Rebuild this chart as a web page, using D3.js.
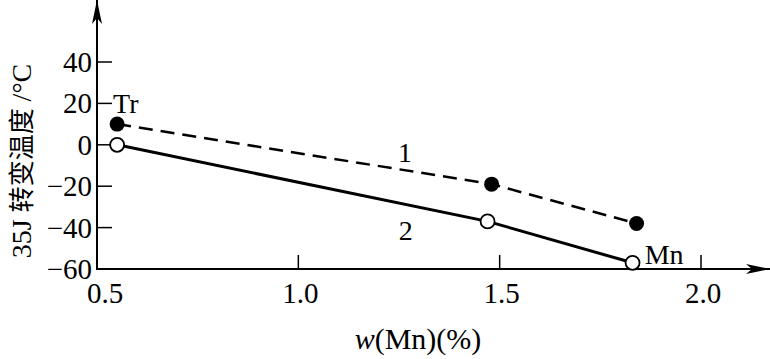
<!DOCTYPE html>
<html>
<head>
<meta charset="utf-8">
<script src="https://cdn.jsdelivr.net/npm/d3@7"></script>
<style>
  body { margin: 0; background: #fff; }
  text { font-family: "Liberation Serif", "Times New Roman", "DejaVu Serif", serif; fill: #000; }
  .cjk { font-family: "Noto Sans CJK SC", sans-serif; }
</style>
</head>
<body>
<svg id="chart" width="770" height="359"></svg>
<script>
// data
var xTicks = [1.0, 1.5, 2.0];
var xTickLabels = ["0.5", "1.0", "1.5", "2.0"];
var yTicks = [40, 20, 0, -20, -40, -60];

// curve 1 (filled dots, dashed)
var mn1 = [0.55, 1.48, 1.84];
var temp1 = [10, -19, -38];
// curve 2 (open dots, solid)
var mn2 = [0.55, 1.47, 1.83];
var temp2 = [0, -37, -57];

var svg = d3.select("#chart");

var x = d3.scaleLinear().domain([0.5, 2.0]).range([97, 701]);
var y = d3.scaleLinear().domain([-60, 40]).range([269, 62]);

var black = "#000";

// axes with arrows
svg.append("defs").append("marker")
    .attr("id", "arrow")
    .attr("viewBox", "0 0 24 10")
    .attr("refX", 24).attr("refY", 5)
    .attr("markerWidth", 24).attr("markerHeight", 10)
    .attr("markerUnits", "userSpaceOnUse")
    .attr("orient", "auto")
  .append("path")
    .attr("d", "M0,0 L24,5 L0,10 L6,5 Z")
    .attr("fill", black);

svg.append("line")
    .attr("x1", x(0.5)).attr("y1", y(-60))
    .attr("x2", 770).attr("y2", y(-60))
    .attr("stroke", black).attr("stroke-width", 2)
    .attr("marker-end", "url(#arrow)");

svg.append("line")
    .attr("x1", x(0.5)).attr("y1", y(-60) + 1)
    .attr("x2", x(0.5)).attr("y2", 0)
    .attr("stroke", black).attr("stroke-width", 2)
    .attr("marker-end", "url(#arrow)");

// x ticks (pointing up)
svg.selectAll(".xt")
    .data(xTicks)
    .enter().append("line")
    .attr("x1", function(d) { return x(d); })
    .attr("x2", function(d) { return x(d); })
    .attr("y1", y(-60))
    .attr("y2", y(-60) - 14)
    .attr("stroke", black).attr("stroke-width", 1.5);

svg.selectAll(".xl")
    .data(xTickLabels)
    .enter().append("text")
    .attr("x", function(d, i) { return x(+d) + (i == 0 ? 8 : 2); })
    .attr("y", 303)
    .attr("text-anchor", "middle")
    .style("font-size", "29px")
    .text(function(d) { return d; });

// y ticks (pointing right)
svg.selectAll(".yt")
    .data(yTicks)
    .enter().append("line")
    .attr("x1", x(0.5))
    .attr("x2", x(0.5) + 15)
    .attr("y1", function(d) { return y(d); })
    .attr("y2", function(d) { return y(d); })
    .attr("stroke", black).attr("stroke-width", 1.5);

svg.selectAll(".yl")
    .data(yTicks)
    .enter().append("text")
    .attr("x", 92)
    .attr("y", function(d) { return y(d) + 10; })
    .attr("text-anchor", "end")
    .style("font-size", "29px")
    .text(function(d) { return d < 0 ? "\u2212" + Math.abs(d) : d; });

// axis titles
var xt = svg.append("text")
    .attr("x", 418).attr("y", 349)
    .attr("text-anchor", "middle")
    .style("font-size", "30px");
xt.append("tspan").style("font-style", "italic").text("w");
xt.append("tspan").text("(Mn)(%)");

var yt = svg.append("text")
    .attr("transform", "translate(31,161) rotate(-90)")
    .attr("text-anchor", "middle")
    .style("font-size", "28px");
yt.append("tspan").text("35J ");
yt.append("tspan").attr("class", "cjk").style("font-size", "26px").text("转变温度");
yt.append("tspan").text(" /°C");

// curves
var line = d3.line()
    .x(function(d) { return x(d[0]); })
    .y(function(d) { return y(d[1]); });

var pts1 = d3.zip(mn1, temp1);
var pts2 = d3.zip(mn2, temp2);

svg.append("path")
    .datum(pts1)
    .attr("d", line)
    .attr("fill", "none")
    .attr("stroke", black)
    .attr("stroke-width", 2.5)
    .attr("stroke-dasharray", "14,8");

svg.append("path")
    .datum(pts2)
    .attr("d", line)
    .attr("fill", "none")
    .attr("stroke", black)
    .attr("stroke-width", 3);

svg.selectAll(".p1")
    .data(pts1)
    .enter().append("circle")
    .attr("cx", function(d) { return x(d[0]); })
    .attr("cy", function(d) { return y(d[1]); })
    .attr("r", 7.5)
    .attr("fill", black);

svg.selectAll(".p2")
    .data(pts2)
    .enter().append("circle")
    .attr("cx", function(d) { return x(d[0]); })
    .attr("cy", function(d) { return y(d[1]); })
    .attr("r", 7)
    .attr("fill", "#fff")
    .attr("stroke", black)
    .attr("stroke-width", 1.8);

// annotations
var notes = [
    {t: "Tr", mn: 0.54, v: 15.5, anchor: "start"},
    {t: "1", mn: 1.265, v: -8.5, anchor: "middle"},
    {t: "2", mn: 1.267, v: -46, anchor: "middle"},
    {t: "Mn", mn: 1.86, v: -57.5, anchor: "start"}
];
svg.selectAll(".note")
    .data(notes)
    .enter().append("text")
    .attr("x", function(d) { return x(d.mn); })
    .attr("y", function(d) { return y(d.v); })
    .attr("text-anchor", function(d) { return d.anchor; })
    .style("font-size", "28px")
    .text(function(d) { return d.t; });
</script>
</body>
</html>
